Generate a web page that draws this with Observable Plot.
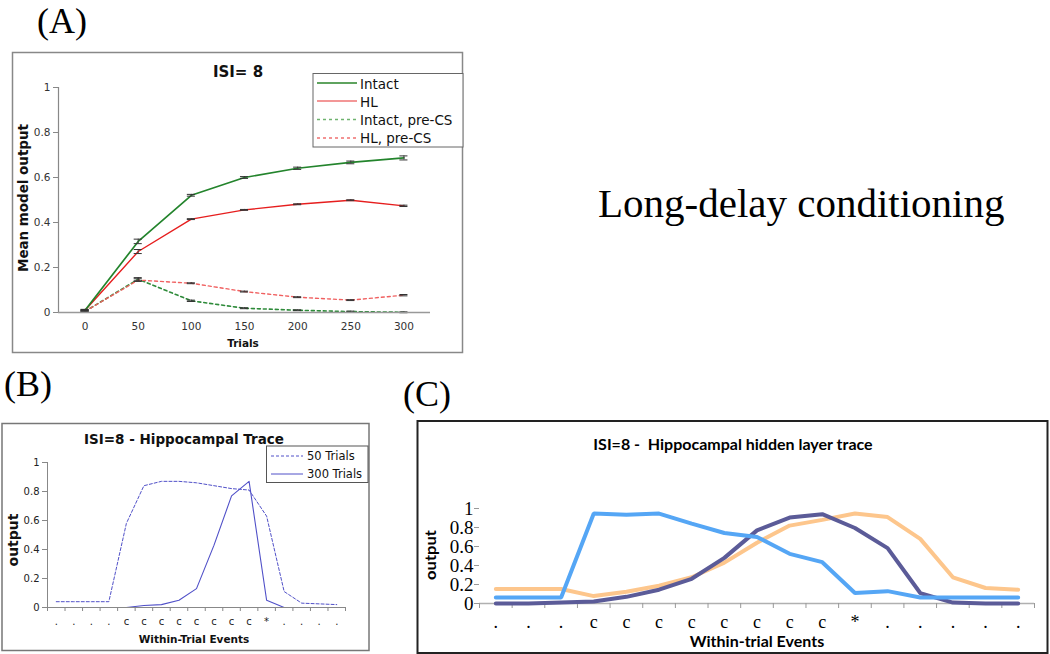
<!DOCTYPE html>
<html>
<head>
<meta charset="utf-8">
<script src="https://cdn.jsdelivr.net/npm/d3@7"></script>
<script src="https://cdn.jsdelivr.net/npm/@observablehq/plot@0.6"></script>
<style>
html, body { margin: 0; padding: 0; background: #fff; }
#root { position: relative; width: 1050px; height: 654px; overflow: hidden; background: #fff; }
.panel { position: absolute; }
.panel svg { display: block; }
#overlay { position: absolute; left: 0; top: 0; pointer-events: none; }
</style>
</head>
<body>
<div id="root">
  <div id="pa" class="panel" style="left:12px; top:52px;"></div>
  <div id="pb" class="panel" style="left:2px; top:423px;"></div>
  <div id="pc" class="panel" style="left:417px; top:421px;"></div>
  <svg id="overlay" width="1050" height="654" xmlns="http://www.w3.org/2000/svg">
    <!-- panel borders -->
    <rect x="12.5" y="52.5" width="450" height="300" fill="none" stroke="#888" stroke-width="1.5"/>
    <rect x="2" y="423.5" width="367" height="227" fill="none" stroke="#777" stroke-width="1.5"/>
    <rect x="417.5" y="421" width="630" height="232" fill="none" stroke="#222" stroke-width="2"/>

    <!-- panel letters -->
    <g font-family="Liberation Serif, serif" fill="#000">
      <text x="37" y="33" font-size="36">(A)</text>
      <text x="4" y="396" font-size="36">(B)</text>
      <text x="403" y="406" font-size="36">(C)</text>
      <text x="598" y="217" font-size="41">Long-delay conditioning</text>
    </g>

    <!-- Panel A texts -->
    <g font-family="DejaVu Sans, Verdana, sans-serif" fill="#111">
      <text x="238" y="77" font-size="15" font-weight="bold" text-anchor="middle">ISI= 8</text>
      <text transform="translate(28,198) rotate(-90)" font-size="14" font-weight="bold" text-anchor="middle" textLength="148" lengthAdjust="spacingAndGlyphs">Mean model output</text>
      <text x="243" y="347" font-size="10.5" font-weight="bold" text-anchor="middle">Trials</text>
    </g>
    <!-- Panel A legend -->
    <rect x="313" y="73.5" width="150" height="73.5" fill="#fff" stroke="#666" stroke-width="1"/>
    <line x1="317" x2="357" y1="83" y2="83" stroke="#5fa35f" stroke-width="2"/>
    <line x1="317" x2="357" y1="101" y2="101" stroke="#e83030" stroke-width="1.2"/>
    <line x1="317" x2="357" y1="119.5" y2="119.5" stroke="#6fb36f" stroke-width="1.5" stroke-dasharray="3,3"/>
    <line x1="317" x2="357" y1="138" y2="138" stroke="#f07070" stroke-width="1.5" stroke-dasharray="3,3"/>
    <g font-family="DejaVu Sans, Verdana, sans-serif" font-size="13.5" fill="#111">
      <text x="360" y="89">Intact</text>
      <text x="360" y="107">HL</text>
      <text x="360" y="125">Intact, pre-CS</text>
      <text x="360" y="143">HL, pre-CS</text>
    </g>

    <!-- Panel B texts -->
    <g font-family="DejaVu Sans, Verdana, sans-serif" fill="#111">
      <text x="184" y="444" font-size="13.5" font-weight="bold" text-anchor="middle">ISI=8 - Hippocampal Trace</text>
      <text transform="translate(18,540) rotate(-90)" font-size="14" font-weight="bold" text-anchor="middle">output</text>
      <text x="194" y="643" font-size="10.5" font-weight="bold" text-anchor="middle">Within-Trial Events</text>
    </g>
    <rect x="266.5" y="446" width="101.5" height="36.5" fill="#fff" stroke="#555" stroke-width="1"/>
    <line x1="271" x2="303" y1="456" y2="456" stroke="#5050c8" stroke-width="1" stroke-dasharray="3,2"/>
    <line x1="271" x2="303" y1="474" y2="474" stroke="#5050c8" stroke-width="1"/>
    <g font-family="DejaVu Sans, Verdana, sans-serif" font-size="11.5" fill="#111">
      <text x="307" y="460">50 Trials</text>
      <text x="307" y="478">300 Trials</text>
    </g>

    <!-- Panel C texts -->
    <g font-family="Lato, Carlito, sans-serif" fill="#000" font-weight="bold">
      <text x="733" y="450" font-size="16" text-anchor="middle" style="white-space:pre" xml:space="preserve">ISI=8 -  Hippocampal hidden layer trace</text>
      <text transform="translate(436,555) rotate(-90)" font-size="15" text-anchor="middle" textLength="50" lengthAdjust="spacingAndGlyphs">output</text>
      <text x="757" y="647" font-size="16" text-anchor="middle">Within-trial Events</text>
    </g>
  </svg>
</div>

<script>
// ---------------- Panel A data ----------------
const trials = [0, 50, 100, 150, 200, 250, 300];
const intact = [0.01, 0.316, 0.521, 0.600, 0.641, 0.667, 0.687];
const hl = [0.01, 0.271, 0.415, 0.456, 0.481, 0.499, 0.474];
const intactPre = [0.005, 0.148, 0.052, 0.019, 0.010, 0.004, 0.001];
const hlPre = [0.005, 0.144, 0.130, 0.093, 0.068, 0.055, 0.077];
const intactErr = [0.004, 0.010, 0.004, 0.004, 0.005, 0.006, 0.009];
const hlErr = [0.003, 0.009, 0.002, 0.002, 0.002, 0.002, 0.003];
const intactPreErr = [0.003, 0.007, 0.003, 0.002, 0.002, 0.002, 0.002];
const hlPreErr = [0.003, 0.006, 0.002, 0.002, 0.002, 0.002, 0.003];
const yTicksA = [0, 0.2, 0.4, 0.6, 0.8, 1];

// ---------------- Panel B data ----------------
const eventsB = [".", ".", ".", ".", "c", "c", "c", "c", "c", "c", "c", "c", "*", ".", ".", ".", "."];
const trials50 = [0.04, 0.04, 0.04, 0.04, 0.58, 0.84, 0.87, 0.87, 0.86, 0.84, 0.82, 0.81, 0.63, 0.11, 0.03, 0.025, 0.02];
const trials300 = [0, 0, 0, 0, 0, 0.014, 0.02, 0.05, 0.13, 0.43, 0.77, 0.87, 0.05, 0, 0, 0, 0];
const yTicksB = [0, 0.2, 0.4, 0.6, 0.8, 1];

// ---------------- Panel C data ----------------
const eventsC = [".", ".", ".", "c", "c", "c", "c", "c", "c", "c", "c", "*", ".", ".", ".", ".", "."];
const orangeC = [0.152, 0.152, 0.152, 0.078, 0.124, 0.187, 0.276, 0.43, 0.64, 0.82, 0.88, 0.947, 0.91, 0.68, 0.276, 0.163, 0.145];
const purpleC = [0, 0, 0.01, 0.02, 0.07, 0.145, 0.26, 0.48, 0.77, 0.905, 0.94, 0.795, 0.583, 0.11, 0.01, 0, 0];
const blueC = [0.064, 0.064, 0.064, 0.947, 0.933, 0.947, 0.84, 0.742, 0.70, 0.523, 0.435, 0.11, 0.13, 0.064, 0.064, 0.064, 0.064];
const yTicksC = [0, 0.2, 0.4, 0.6, 0.8, 1];

// ---------------- Panel A ----------------
const seriesA = [
  {key: "Intact, pre-CS", vals: intactPre, err: intactPreErr, stroke: "#2e8b3a", dash: "3,3", w: 1.6},
  {key: "HL, pre-CS", vals: hlPre, err: hlPreErr, stroke: "#f06060", dash: "3,3", w: 1.4},
  {key: "HL", vals: hl, err: hlErr, stroke: "#e61e1e", dash: null, w: 1.4},
  {key: "Intact", vals: intact, err: intactErr, stroke: "#23842c", dash: null, w: 1.7}
];
const tableA = seriesA.flatMap(s => trials.map((t, i) => ({series: s.key, t, v: s.vals[i], e: s.err[i]})));

const plotA = Plot.plot({
  width: 451, height: 301,
  marginLeft: 46, marginRight: 33, marginTop: 35, marginBottom: 41,
  x: {domain: [-25, 325], label: null},
  y: {domain: [0, 1], label: null},
  style: {background: "transparent", fontFamily: "DejaVu Sans, Verdana, sans-serif", fontSize: "10.5px", color: "#333", overflow: "visible"},
  marks: [
    Plot.ruleX([-25], {stroke: "#888", strokeWidth: 1.2}),
    Plot.axisY({ticks: yTicksA, label: null, tickSize: 5, tickPadding: 3, tickFormat: d => String(d), stroke: "#888", fill: "#333"}),
    Plot.axisX({ticks: trials, label: null, tickSize: 0, tickPadding: 10, tickFormat: d => String(d), fill: "#333"}),
    ...seriesA.map(s => Plot.line(tableA.filter(d => d.series === s.key), {
      x: "t", y: "v", stroke: s.stroke, strokeWidth: s.w, strokeDasharray: s.dash
    })),
    Plot.ruleX(tableA, {x: "t", y1: d => d.v - d.e, y2: d => d.v + d.e, stroke: "#444", strokeWidth: 1}),
    Plot.ruleY(tableA, {y: d => d.v + d.e, x1: d => d.t - 3.8, x2: d => d.t + 3.8, stroke: "#333", strokeWidth: 1}),
    Plot.ruleY(tableA, {y: d => d.v - d.e, x1: d => d.t - 3.8, x2: d => d.t + 3.8, stroke: "#333", strokeWidth: 1}),
    Plot.ruleY([0], {stroke: "#999", strokeWidth: 1.6})
  ]
});
document.getElementById("pa").appendChild(plotA);

// ---------------- Panel B ----------------
const idxB = eventsB.map((_, i) => i);
const boundsB = [...idxB.map(i => i - 0.5), eventsB.length - 0.5];
const tableB = [
  ...idxB.map(i => ({series: "50 Trials", i, v: trials50[i]})),
  ...idxB.map(i => ({series: "300 Trials", i, v: trials300[i]}))
];
const plotB = Plot.plot({
  width: 367, height: 228,
  marginLeft: 45, marginRight: 24, marginTop: 39, marginBottom: 44,
  x: {domain: [-0.5, eventsB.length - 0.5], label: null},
  y: {domain: [0, 1], label: null},
  style: {background: "transparent", fontFamily: "DejaVu Sans, Verdana, sans-serif", fontSize: "10px", color: "#333", overflow: "visible"},
  marks: [
    Plot.ruleX([-0.5], {stroke: "#888", strokeWidth: 1}),
    Plot.axisY({ticks: yTicksB, label: null, tickSize: 5, tickPadding: 3, tickFormat: d => String(d), stroke: "#888", fill: "#222"}),
    Plot.axisX({ticks: boundsB, label: null, tickSize: 4, tickFormat: () => "", stroke: "#888"}),
    Plot.axisX({ticks: idxB, label: null, tickSize: 0, tickPadding: 10, tickFormat: i => eventsB[i], fill: "#222"}),
    Plot.line(tableB.filter(d => d.series === "50 Trials"), {x: "i", y: "v", stroke: "#5050c8", strokeWidth: 1, strokeDasharray: "3,2"}),
    Plot.line(tableB.filter(d => d.series === "300 Trials"), {x: "i", y: "v", stroke: "#5050c8", strokeWidth: 1.1}),
    Plot.ruleY([0], {stroke: "#888", strokeWidth: 1})
  ]
});
document.getElementById("pb").appendChild(plotB);

// ---------------- Panel C ----------------
const idxC = eventsC.map((_, i) => i);
const boundsC = [...idxC.map(i => i - 0.5), eventsC.length - 0.5];
const seriesC = [
  {key: "orange", vals: orangeC, stroke: "#fdc68c"},
  {key: "purple", vals: purpleC, stroke: "#5b5b98"},
  {key: "blue", vals: blueC, stroke: "#55a6f5"}
];
const tableC = seriesC.flatMap(s => idxC.map(i => ({series: s.key, i, v: s.vals[i]})));
const plotC = Plot.plot({
  width: 631, height: 232,
  marginLeft: 62, marginRight: 14, marginTop: 87, marginBottom: 50,
  x: {domain: [-0.5, eventsC.length - 0.5], label: null},
  y: {domain: [0, 1], label: null},
  style: {background: "transparent", fontFamily: "Liberation Serif, Times New Roman, serif", fontSize: "19px", color: "#000", overflow: "visible"},
  marks: [
    Plot.ruleY([0], {stroke: "#b0b0b0", strokeWidth: 1.5}),
    Plot.axisY({ticks: yTicksC, label: null, tickSize: 5, tickPadding: 1, tickFormat: d => String(d), stroke: "#999", fill: "#000"}),
    Plot.axisX({ticks: boundsC, label: null, tickSize: 5, tickFormat: () => "", stroke: "#999"}),
    Plot.axisX({ticks: idxC, label: null, tickSize: 0, tickPadding: 12, tickFormat: i => eventsC[i], fill: "#000", fontSize: 18}),
    ...seriesC.map(s => Plot.line(tableC.filter(d => d.series === s.key), {
      x: "i", y: "v", stroke: s.stroke, strokeWidth: 4, strokeLinejoin: "miter"
    }))
  ]
});
document.getElementById("pc").appendChild(plotC);
</script>
</body>
</html>
